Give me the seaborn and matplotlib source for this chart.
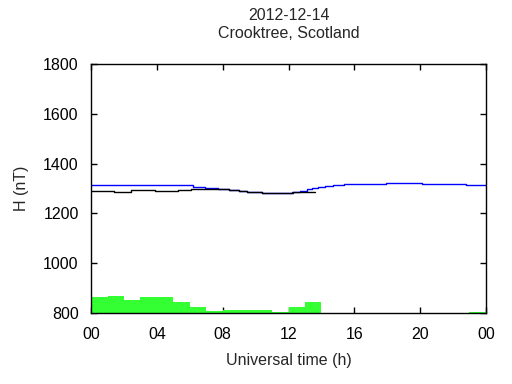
import matplotlib
matplotlib.use('Agg')
import matplotlib.pyplot as plt
import seaborn as sns
import numpy as np
import pandas as pd

# 読み取った値
title_date = '2012-12-14'
title_site = 'Crooktree, Scotland'

# 青線 (階段状)
blue_hours = [0.0, 3.9, 5.0, 6.2, 6.9, 7.7, 8.4, 9.0, 9.5, 10.4, 12.2, 12.7,
              13.1, 13.4, 13.8, 14.2, 14.7, 15.4, 17.9, 20.1, 22.8, 24.0]
blue_vals = [1313, 1315, 1313, 1306, 1303, 1299, 1295, 1292, 1287, 1281, 1286, 1291,
             1297, 1301, 1306, 1310, 1314, 1317, 1321, 1317, 1313, 1313]

# 黒線 (階段状, 0-14h)
black_hours = [0.0, 1.4, 1.8, 2.4, 3.9, 4.7, 5.3, 6.1, 7.7, 8.4, 9.0, 9.5,
               10.4, 11.4, 12.3, 13.6]
black_vals = [1290, 1285, 1287, 1293, 1289, 1291, 1295, 1300, 1298, 1293, 1289, 1286,
              1283, 1282, 1286, 1286]

# 緑の棒 (1時間毎)
bar_hours = [0, 1, 2, 3, 4, 5, 6, 7, 8, 9, 10, 11, 12, 13, 23]
bar_vals = [865, 870, 853, 865, 865, 845, 824, 808, 812, 812, 812, 804, 824, 845, 802]

tick_pos = [0, 4, 8, 12, 16, 20, 24]
tick_labels = ['00', '04', '08', '12', '16', '20', '00']

sns.set_style('ticks')
plt.rcParams['font.family'] = ['Liberation Sans', 'DejaVu Sans']
plt.rcParams['font.size'] = 11.5

fig = plt.figure(figsize=(5.12, 3.84), dpi=100)
ax = fig.add_axes([0.178, 0.185, 0.771, 0.648])

ax.bar(bar_hours, np.array(bar_vals), width=1.0, align='edge', color='#33ff33',
       linewidth=0, zorder=1)

blue_df = pd.DataFrame({'h': blue_hours, 'v': blue_vals})
black_df = pd.DataFrame({'h': black_hours, 'v': black_vals})
sns.lineplot(data=black_df, x='h', y='v', ax=ax, color='black', linewidth=1,
             drawstyle='steps-post', zorder=3)
sns.lineplot(data=blue_df, x='h', y='v', ax=ax, color='#0000ff', linewidth=1,
             drawstyle='steps-post', zorder=2)

ax.set_xlim(0, 24)
ax.set_ylim(800, 1800)
ax.set_xticks(tick_pos)
ax.set_xticklabels(tick_labels)
ax.set_yticks(range(800, 1801, 200))
ax.tick_params(direction='in', length=4.5, width=1, top=True, right=True,
               labelsize=11.5, colors='black')
ax.tick_params(axis='x', pad=10)
ax.tick_params(axis='y', pad=9)
for s in ax.spines.values():
    s.set_visible(True)
    s.set_linewidth(1)
    s.set_color('black')

ax.set_xlabel('Universal time (h)', fontsize=11.5, labelpad=8)
ax.set_ylabel('H (nT)', fontsize=11.5, labelpad=10)
ax.set_title('')
fig.text(0.5635, 1 - 16 / 384, title_date, ha='center', va='center', fontsize=11.5)
fig.text(0.5635, 1 - 34 / 384, title_site, ha='center', va='center', fontsize=11.5)

fig.savefig('out.png', dpi=100)
